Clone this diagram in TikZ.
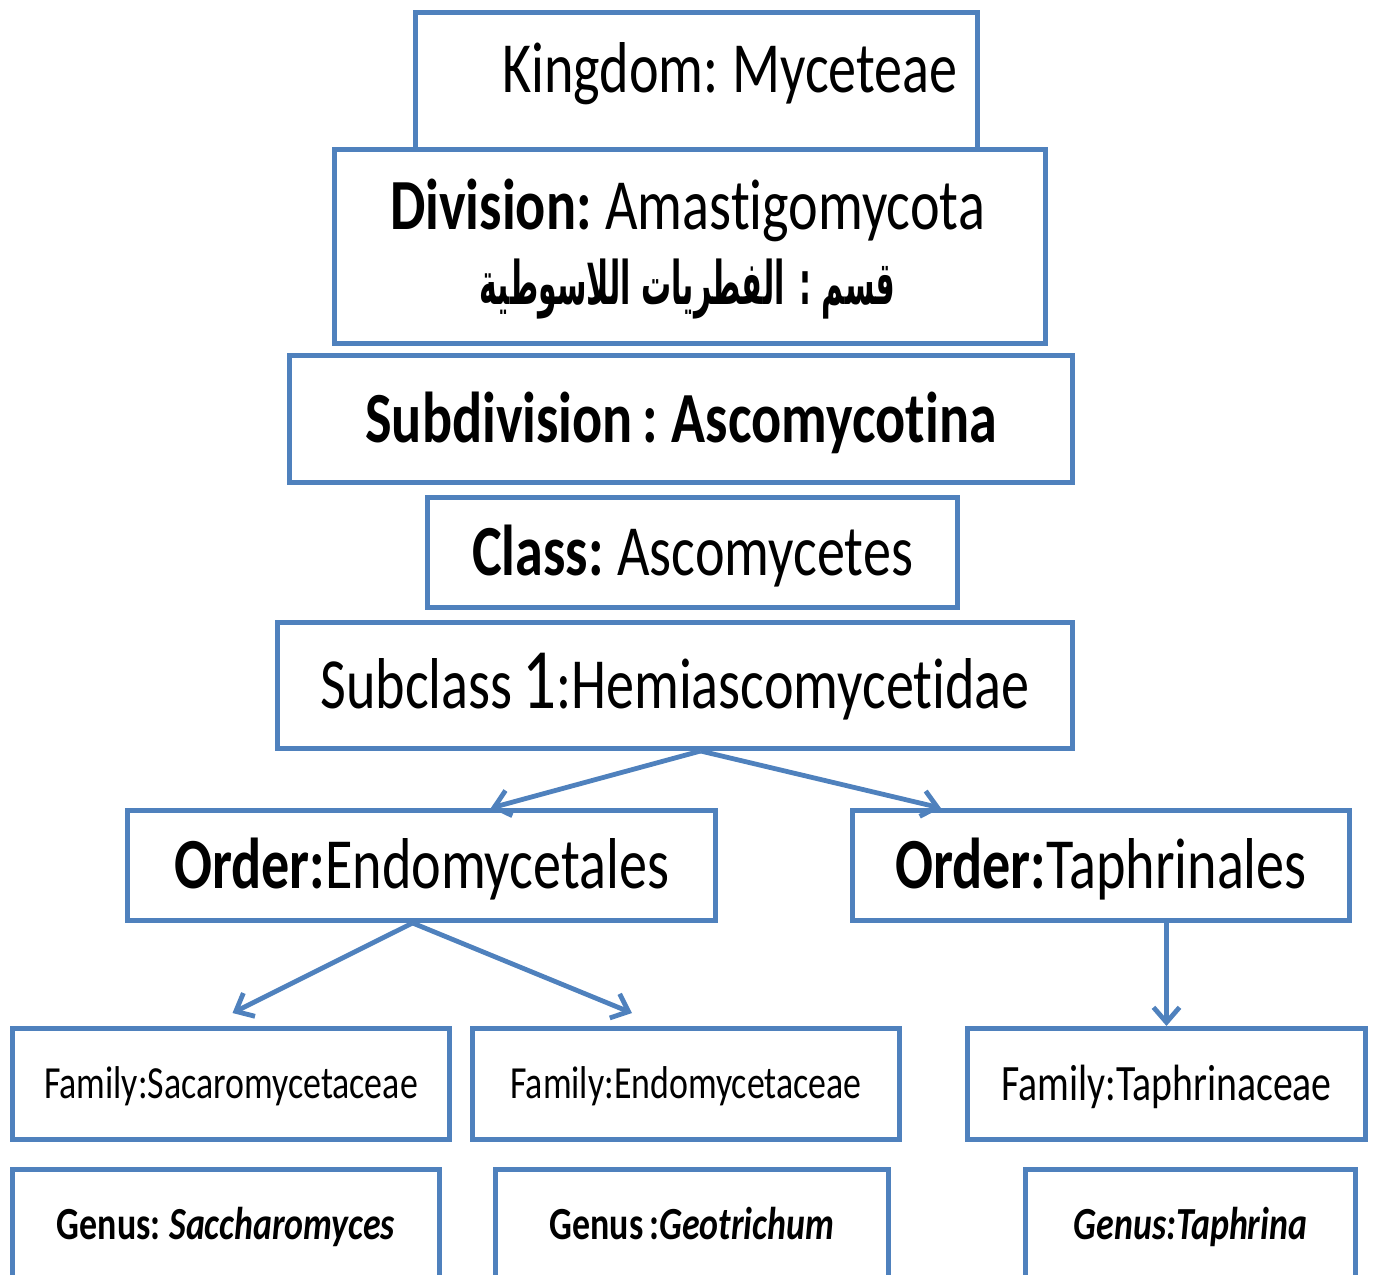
\documentclass[tikz,border=0pt]{standalone}
\usepackage{fontspec}
\setmainfont{Carlito}[FakeStretch=0.78, WordSpace=0.75, Ligatures=NoCommon]
\newfontfamily\arabicfont[Script=Arabic, FakeStretch=0.5]{DejaVu Sans}
\TeXXeTstate=1
\usetikzlibrary{arrows.meta,calc}

\definecolor{taxblue}{HTML}{4F81BD}

\tikzset{
    taxbox/.style={draw=taxblue, line width=2.5pt, fill=white, anchor=north west, inner sep=0pt},
    bigtext/.style={font=\fontsize{36}{40}\selectfont, text height=23pt, text depth=0pt},
    famtext/.style={font=\fontsize{23}{26}\selectfont, text height=14.7pt, text depth=0pt},
    genustext/.style={font=\fontsize{23}{26}\selectfont\bfseries, text height=14.7pt, text depth=0pt},
    conn/.style={draw=taxblue, line width=2.4pt, -{Straight Barb[length=7.5pt,width=13pt]}}
}

\begin{document}
\begin{tikzpicture}[x=0.5pt, y=-0.5pt]
    \useasboundingbox (0,0) rectangle (1373,1275);

    % upper ranks, stacked
    \node[taxbox, minimum width=281pt, minimum height=68.5pt] (kingdom) at (413,10) {};
    \node[anchor=base east, font=\fontsize{36}{40}\selectfont, inner sep=0pt] (kingdomtext) at (958,92) {Kingdom: Myceteae};
    \node[taxbox, minimum width=355.5pt, minimum height=97pt] (division) at (332,147) {};
    \node[bigtext] (divisionlat) at (687.5,206.5) {\textbf{Division:} Amastigomycota};
    \node[anchor=base, font=\fontsize{30}{32}\selectfont] (divisionar) at (687.5,304)
        {\arabicfont\bfseries\beginR قسم : الفطريات اللاسوطية\endR};
    \node[taxbox, bigtext, minimum width=391.5pt, minimum height=63.5pt] (subdivision) at (287,353) {\textbf{Subdivision : Ascomycotina}};
    \node[taxbox, bigtext, minimum width=265pt, minimum height=55pt] (class) at (425,495) {\textbf{Class:} Ascomycetes};
    \node[taxbox, bigtext, minimum width=397.5pt, minimum height=63pt] (subclass) at (275,620)
        {Subclass {\fontsize{43}{44}\selectfont 1}:Hemiascomycetidae};

    % orders
    \node[taxbox, bigtext, minimum width=294pt, minimum height=55pt] (orderendo) at (125,808) {\textbf{Order:}Endomycetales};
    \node[taxbox, bigtext, minimum width=248.5pt, minimum height=55pt] (ordertaph) at (850,808) {\textbf{Order:}Taphrinales};

    % families
    \node[taxbox, famtext, minimum width=218.5pt, minimum height=55.5pt] (famsac) at (10,1026) {Family:Sacaromycetaceae};
    \node[taxbox, famtext, minimum width=213.5pt, minimum height=55.5pt] (famendo) at (470,1026) {Family:Endomycetaceae};
    \node[taxbox, famtext, font=\fontsize{25.5}{28}\selectfont, text height=16.3pt, minimum width=199pt, minimum height=55.5pt] (famtaph) at (965,1026) {Family:Taphrinaceae};

    % genera
    \node[taxbox, genustext, minimum width=213.5pt, minimum height=55pt] (genussac) at (10,1167) {Genus: \textit{Saccharomyces}};
    \node[taxbox, genustext, minimum width=196.5pt, minimum height=55pt] (genusgeo) at (493,1167) {Genus :\textit{Geotrichum}};
    \node[taxbox, genustext, minimum width=165pt, minimum height=55pt] (genustaph) at (1023,1167) {\textit{Genus:Taphrina}};

    % arrows
    \coordinate (subclassout) at ($(subclass.south west)!0.532!(subclass.south east)$);
    \coordinate (endoout) at ($(orderendo.south west)!0.485!(orderendo.south east)$);
    \draw[conn] (subclassout) -- ($(orderendo.north west)!0.617!(orderendo.north east)$);
    \draw[conn] (subclassout) -- ($(ordertaph.north west)!0.181!(ordertaph.north east)$);
    \draw[conn] (endoout) -- ($(famsac.north)+(1.5,-13)$);
    \draw[conn] (endoout) -- ($(famendo.north west)!0.375!(famendo.north east)+(0,-13)$);
    \draw[conn] (famtaph.north |- ordertaph.south) -- (famtaph.north);
\end{tikzpicture}
\end{document}
